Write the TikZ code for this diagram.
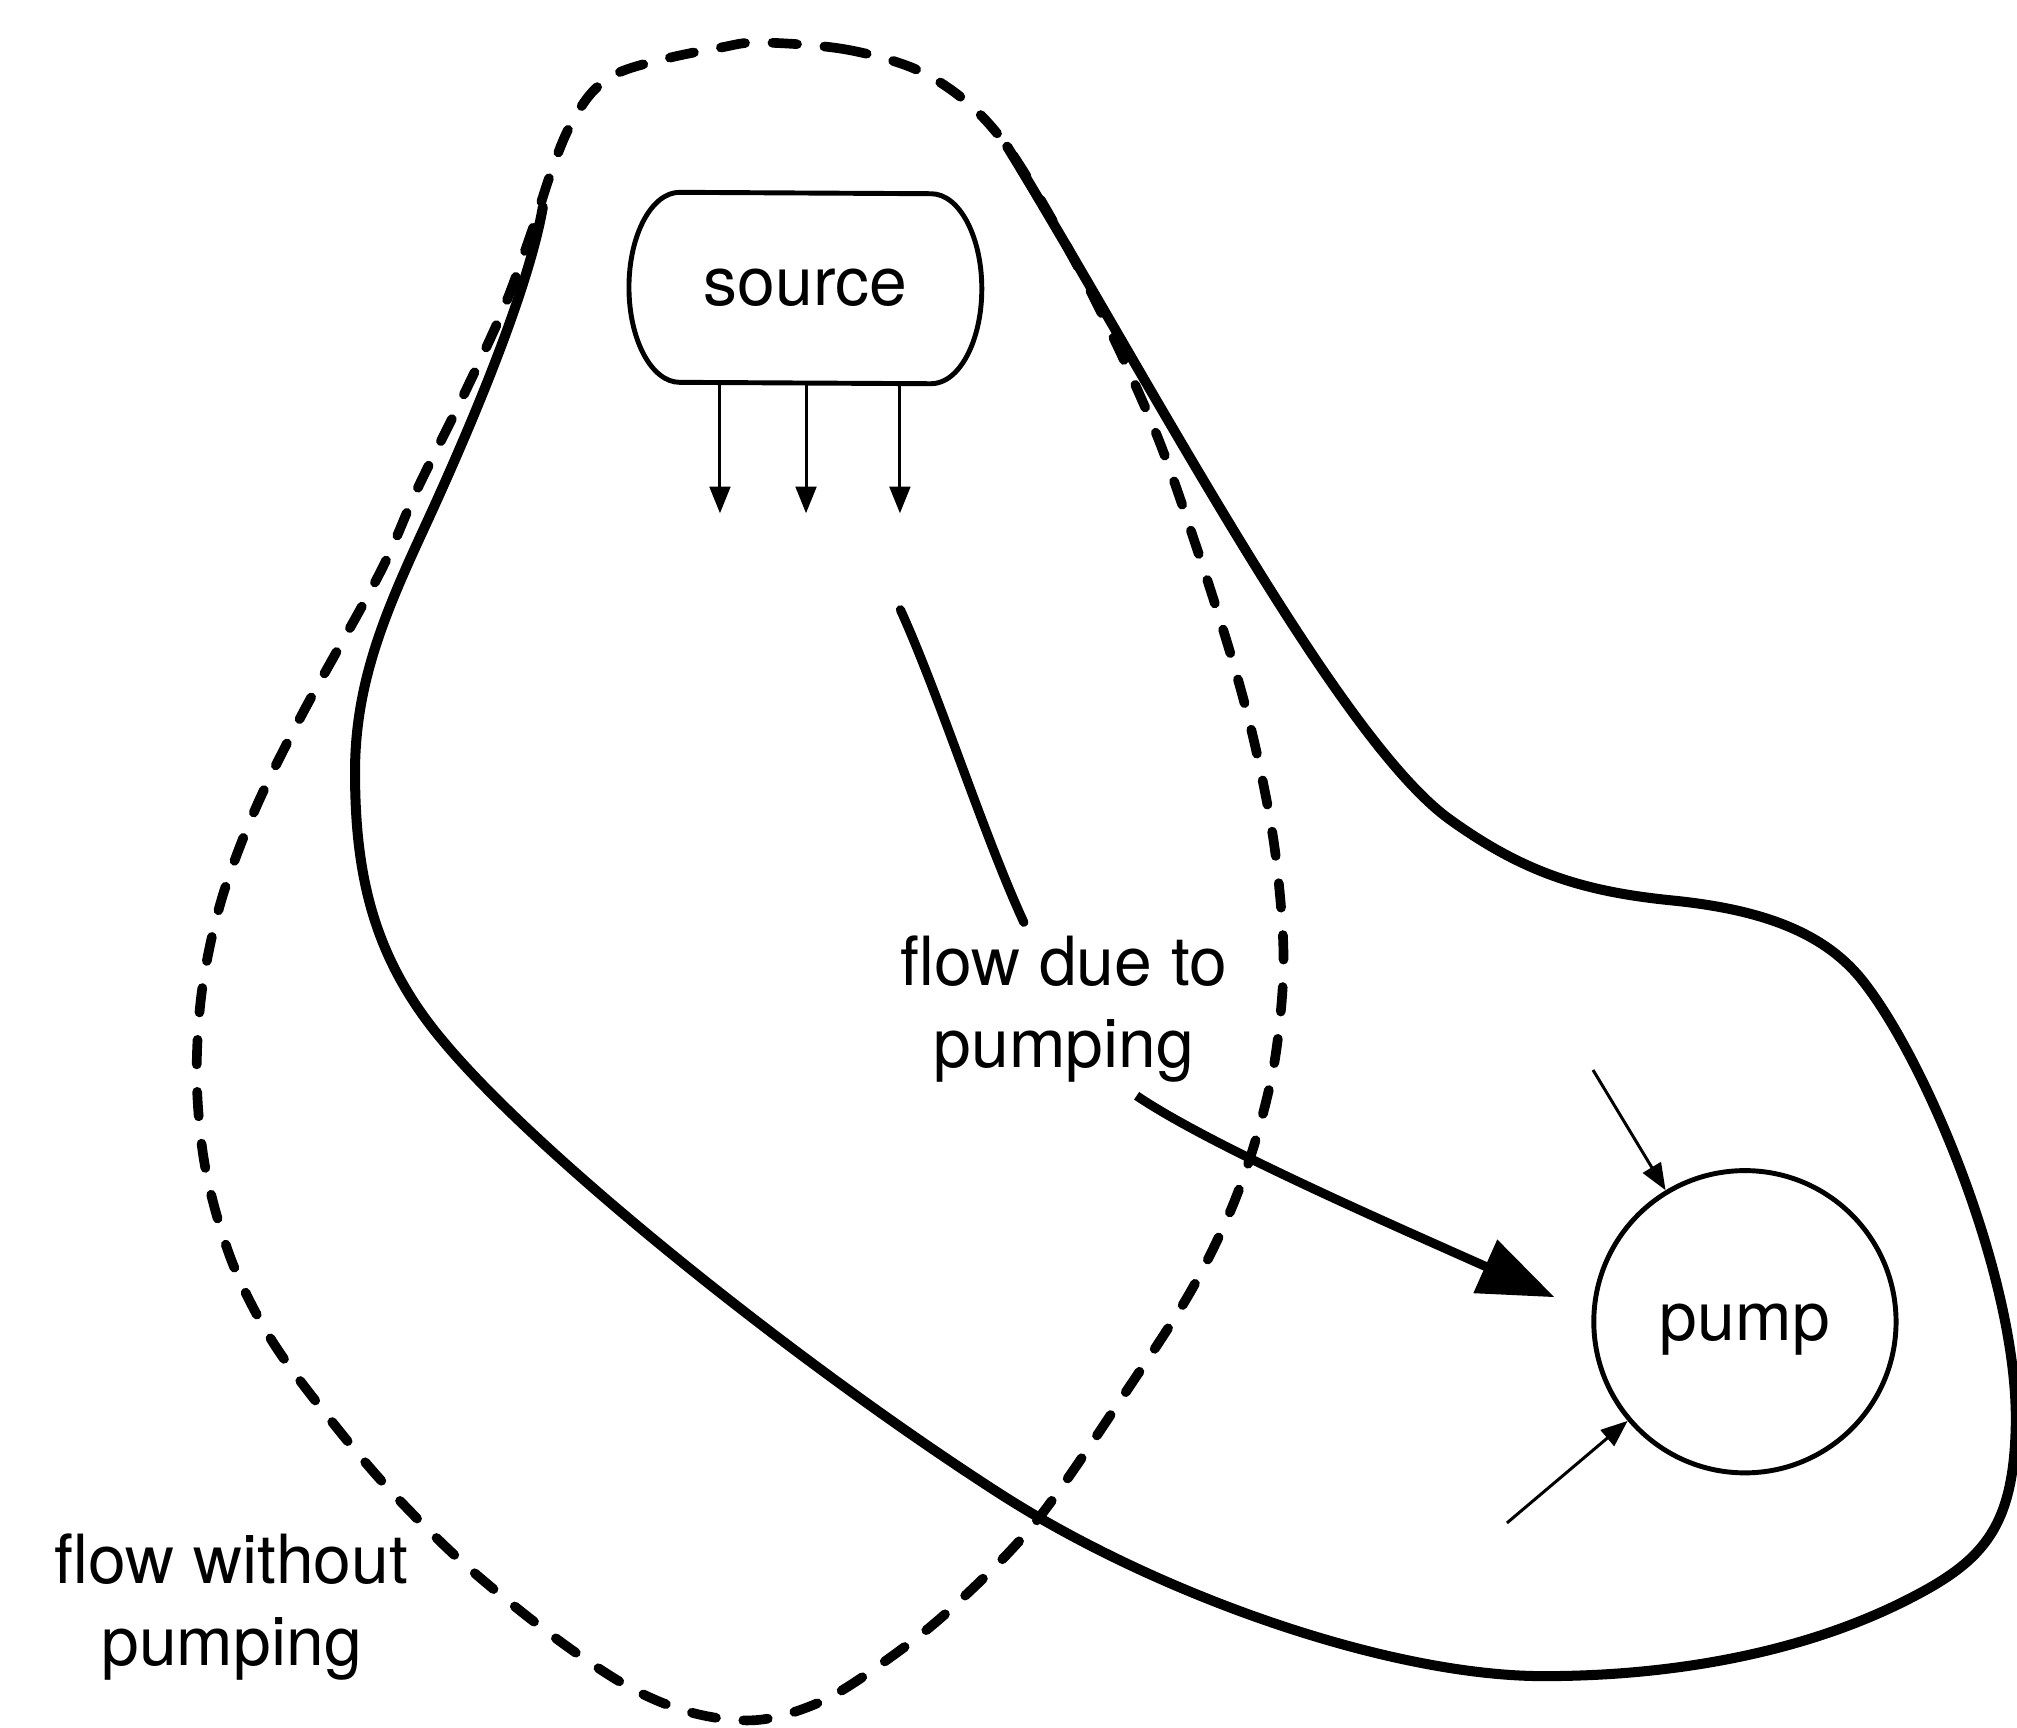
\documentclass[tikz,border=0pt]{standalone}
\usepackage{fontspec}
\setmainfont{TeX Gyre Heros}
\usetikzlibrary{arrows.meta,calc}
\begin{document}
\begin{tikzpicture}[x=0.012864cm, y=-0.012864cm,
  every node/.style={font=\fontsize{19.3pt}{23.3pt}\selectfont},
  lbl/.style={align=center, inner sep=3.66pt},
  thinarrow/.style={line width=0.85pt, -{Triangle[length=7.6pt,width=5.9pt]}},
  bigflow/.style={line width=2.6pt, -{Triangle[length=21.6pt,width=16pt]}},
  zone/.style={line width=2.85pt, line cap=round, line join=round},
  nozone/.style={line width=2.75pt, line cap=round, dash pattern=on 7pt off 7.8pt},
  outline/.style={line width=1.4pt}]
\useasboundingbox (0,0) rectangle (1568,1343.3);

% capture zone without pumping (dashed)
\draw[nozone] plot[smooth cycle, tension=0.55] coordinates {
  (590,33) (655,38) (710,53) (750,78) (783,114) (822,178) (862,255)
  (900,340) (930,425) (958,513) (976,581) (990,653) (997,721) (997,770)
  (990,830) (975,890) (955,945) (925,1005) (880,1075) (806,1182)
  (740,1250) (690,1290) (640,1322) (590,1337) (540,1332) (490,1312)
  (430,1272) (360,1215) (300,1155) (250,1095) (210,1040) (180,980)
  (160,910) (153,840) (157,770) (172,700) (198,630) (235,555) (295,446)
  (324,381) (360,308) (391,241) (412,184) (428,135) (442,100) (460,72)
  (482,56) (520,45) (560,37)};

% capture zone with pumping (solid)
\draw[zone] (783,114)
  .. controls (888,285) and (1038,573) .. (1127,637)
  .. controls (1184,678) and (1230,693) .. (1300,700)
  .. controls (1370,707) and (1420,725) .. (1450,765)
  .. controls (1500,830) and (1570,1000) .. (1567,1110)
  .. controls (1565,1190) and (1540,1215) .. (1480,1245)
  .. controls (1400,1285) and (1300,1303) .. (1200,1303)
  .. controls (1080,1303) and (900,1240) .. (777,1161)
  .. controls (620,1060) and (420,900) .. (345,810)
  .. controls (290,745) and (276,680) .. (276,600)
  .. controls (276,530) and (300,475) .. (330,410)
  .. controls (360,345) and (410,230) .. (422,161);

% source
\node[inner sep=0, minimum width=71.15pt, minimum height=54.06pt]
  (source) at (626.1,223.9) {source};
\draw[outline] (source.north west)
  arc[start angle=90, end angle=270, x radius=14.42pt, y radius=27.03pt]
  -- (source.south east)
  arc[start angle=-90, end angle=90, x radius=14.42pt, y radius=27.03pt]
  -- cycle;
\coordinate (s1) at (559.7,399);
\coordinate (s2) at (626.6,399);
\coordinate (s3) at (699.6,399);
\foreach \s in {s1,s2,s3}
  \draw[thinarrow] (source.south -| \s) -- (\s);

% pump
\node[circle, draw, outline, minimum size=86pt, inner sep=0, text depth=0pt]
  (pump) at (1356.5,1027.5) {pump};
\coordinate (p1) at (1238.4,831.8);
\coordinate (p2) at (1171.5,1183.9);
\draw[thinarrow] (p1) -- (pump);
\draw[thinarrow] (p2) -- (pump);

% labels
\node[lbl] (flowlbl) at (827,784.4) {flow due to\\pumping};
\node[lbl] (nolbl) at (180,1249) {flow without\\pumping};

% flow due to pumping
\coordinate (fstart) at (700,474);
\draw[line width=2.6pt, line cap=round] (fstart)
  .. controls (730,540) and (765,650) .. (flowlbl);
\draw[bigflow, shorten >=11.5pt] (flowlbl.-50)
  .. controls (940,890) and (1073,948) .. (pump.177);
\end{tikzpicture}
\end{document}
